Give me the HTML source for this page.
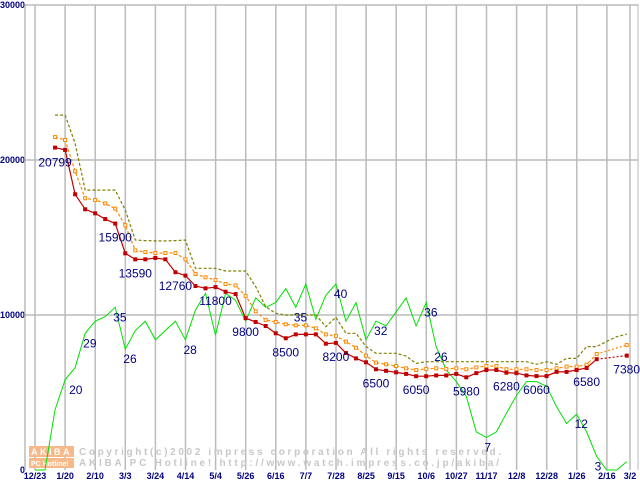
<!DOCTYPE html>
<html><head><meta charset="utf-8"><style>
body{margin:0;background:#fff;width:640px;height:480px;overflow:hidden}
svg text{font-family:"Liberation Sans",sans-serif}
</style></head><body>
<svg id="c" width="640" height="480" xmlns="http://www.w3.org/2000/svg"></svg>
<script>
const xLabels=["12/23","1/20","2/10","3/3","3/24","4/14","5/4","5/26","6/16","7/7","7/28","8/25","9/15","10/6","10/27","11/17","12/8","12/28","1/26","2/16","3/2"];
const yTicks=[0,10000,20000,30000];
const minPrice=[null,null,20799,20650,17790,16820,16560,16190,15900,13980,13590,13590,13680,13590,12760,12540,11870,11720,11800,11500,11350,9800,9550,9290,8820,8500,8750,8750,8750,8150,8200,7550,7200,6950,6500,6400,6300,6200,6050,6050,6100,6100,6200,5980,6250,6450,6450,6280,6250,6100,6060,6060,6330,6330,6450,6580,7150,null,null,7380];
const avgPrice=[null,null,21480,21290,19270,17530,17420,17200,16860,15790,14170,14060,14000,14000,14000,13590,12650,12430,12260,12000,11910,11230,10240,9680,9550,9400,9330,9330,9140,8750,8650,8280,7890,7380,6930,6820,6710,6560,6450,6520,6560,6520,6560,6500,6620,6710,6710,6500,6500,6500,6450,6450,6560,6670,6670,6800,7480,null,null,8060];
const maxPrice=[null,null,22900,22900,21080,18060,18060,18060,18060,16770,14840,14800,14780,14780,14800,14840,13010,13010,13010,12840,12840,12840,11830,10540,10110,10000,10000,10000,10000,9250,9850,8820,8820,7960,7530,7530,7530,7350,6880,6990,6990,6990,6990,6990,6990,6990,6990,6990,6990,6990,6820,6990,6820,7200,7200,7960,7960,8300,8600,8770];
const shopCount=[0,0,13,19.4,22,29.4,32,33,35,26,30,32,28,30,32,28,34.4,38,29,38,36.5,32,37,35,36,39,35,40,32.4,37.6,40,32,36,28,32,31,34,37,31,36,26.5,21.5,19,15.8,8.2,7,8.2,12.2,16,19,19,18,13.6,10,12,8.2,2.9,0,0,1.8];
const priceLabels=[[2,"20799"],[8,"15900"],[10,"13590"],[14,"12760"],[18,"11800"],[21,"9800"],[25,"8500"],[30,"8200"],[34,"6500"],[38,"6050"],[43,"5980"],[47,"6280"],[50,"6060"],[55,"6580"],[59,"7380"]];
const countLabels=[[3,"20"],[5,"29"],[8,"35"],[9,"26"],[15,"28"],[26,"35"],[30,"40"],[34,"32"],[39,"36"],[40,"26"],[45,"7"],[54,"12"],[56,"3"]];
const NS="http://www.w3.org/2000/svg",svg=document.getElementById('c');
const X=i=>35+i*10.03, Y=v=>470-v*0.0155, YC=c=>Y(c*300);
function el(t,a,p){const e=document.createElementNS(NS,t);for(const k in a)e.setAttribute(k,a[k]);(p||svg).appendChild(e);return e;}
for(let k=0;k<xLabels.length;k++){const x=k<20?35+k*30.1:630;
const g=el('line',{x1:x,y1:5,x2:x,y2:470,stroke:'#bbb','stroke-width':1.5});


const t=el('text',{x:x,y:479,'text-anchor':'middle','font-size':9,'font-weight':'bold',fill:'#000080'});t.textContent=xLabels[k];

}
yTicks.forEach(v=>{const y=Y(v);
if(v>0){const g=el('line',{x1:25,y1:y,x2:638,y2:y,stroke:'#bbb','stroke-width':1.5});

}
const t=el('text',{x:v?0:20,y:v?y+3:473,'font-size':9,'font-weight':'bold',fill:'#000080'});t.textContent=String(v);

});
el('line',{x1:25,y1:4,x2:25,y2:470,stroke:'#bbb','stroke-width':1.5});
el('line',{x1:638,y1:4,x2:638,y2:470,stroke:'#bbb','stroke-width':1});
const wm=el('g',{});
el('rect',{x:29,y:446,width:45,height:11,fill:'#f7b98a'},wm);el('rect',{x:29,y:458,width:45,height:10,fill:'#f7b98a'},wm);
const w1=el('text',{x:31,y:455,'font-size':9,'font-weight':'bold',fill:'#fff','letter-spacing':2.5},wm);w1.textContent='AKIBA';
const w2=el('text',{x:31,y:466,'font-size':7,'font-weight':'bold',fill:'#fff'},wm);w2.textContent='PC Hotline!';
const w3=el('text',{x:79,y:455,'font-size':10,'font-weight':'bold',fill:'#c8c8c8','font-family':'Liberation Mono',textLength:422,lengthAdjust:'spacing'},wm);w3.textContent='Copyright(c)2002 impress corporation All rights reserved.';
const w4=el('text',{x:79,y:466,'font-size':10,'font-weight':'bold',fill:'#c8c8c8','font-family':'Liberation Mono',textLength:420,lengthAdjust:'spacing'},wm);w4.textContent='AKIBA PC Hotline!  http://www.watch.impress.co.jp/akiba/';
function series(arr,color,dash,w,name,ys){let d='',gap=[];let last=null;
arr.forEach((v,i)=>{if(v==null)return;const p=[X(i),ys(v)];if(last&&i-last[2]>1)gap.push([last,p]);d+=(last&&i-last[2]==1?'L':'M')+p[0].toFixed(1)+' '+p[1].toFixed(1);last=[p[0],p[1],i];});
const e=el('path',{d:d,fill:'none',stroke:color,'stroke-width':w,'stroke-dasharray':dash||'none'});


gap.forEach(([a,b])=>el('line',{x1:a[0],y1:a[1],x2:b[0],y2:b[1],stroke:color,'stroke-width':w,'stroke-dasharray':'2 2'}));}
series(shopCount,'#00e000',null,1,'shop-count-line',YC);
series(maxPrice,'#808000','3 2',1.2,'max-price-line',Y);
series(avgPrice,'#ff8800','3 2',1.2,'avg-price-line',Y);
series(minPrice,'#c00000',null,1.2,'min-price-line',Y);
avgPrice.forEach((v,i)=>{if(v==null)return;const r=el('rect',{x:X(i)-1.5,y:Y(v)-1.5,width:3,height:3,fill:'#fff',stroke:'#ff8800','stroke-width':1});

});
minPrice.forEach((v,i)=>{if(v==null)return;const r=el('rect',{x:X(i)-2,y:Y(v)-2,width:4,height:4,fill:'#c00000'});

});
priceLabels.forEach(([i,s])=>{const t=el('text',{x:i==59?640:X(i),y:Y(minPrice[i])+(i==2?19:18),'text-anchor':i==59?'end':'middle','font-size':12,fill:'#000080'});t.textContent=s;

});
countLabels.forEach(([i,s])=>{const t=el('text',{x:X(i)+(i==3?4:-2),y:YC(shopCount[i])+14,'font-size':12,fill:'#000080'});t.textContent=s;

});
</script></body></html>
